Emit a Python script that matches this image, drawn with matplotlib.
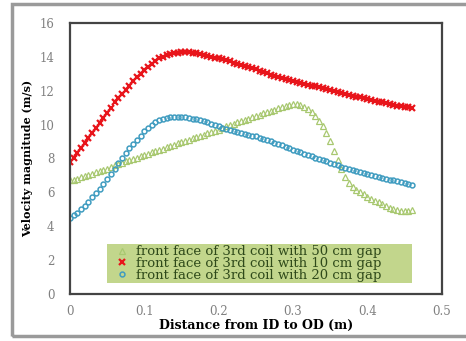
# Velocity magnitude across the coil, three gap cases
import matplotlib
matplotlib.use('Agg')
from matplotlib import pyplot as plt
from matplotlib.patches import Rectangle

# Data (one reading every 5 mm)
dist = [0.000, 0.005, 0.010, 0.015, 0.020, 0.025, 0.030, 0.035, 0.040, 0.045,
        0.050, 0.055, 0.060, 0.065, 0.070, 0.075, 0.080, 0.085, 0.090, 0.095,
        0.100, 0.105, 0.110, 0.115, 0.120, 0.125, 0.130, 0.135, 0.140, 0.145,
        0.150, 0.155, 0.160, 0.165, 0.170, 0.175, 0.180, 0.185, 0.190, 0.195,
        0.200, 0.205, 0.210, 0.215, 0.220, 0.225, 0.230, 0.235, 0.240, 0.245,
        0.250, 0.255, 0.260, 0.265, 0.270, 0.275, 0.280, 0.285, 0.290, 0.295,
        0.300, 0.305, 0.310, 0.315, 0.320, 0.325, 0.330, 0.335, 0.340, 0.345,
        0.350, 0.355, 0.360, 0.365, 0.370, 0.375, 0.380, 0.385, 0.390, 0.395,
        0.400, 0.405, 0.410, 0.415, 0.420, 0.425, 0.430, 0.435, 0.440, 0.445,
        0.450, 0.455, 0.460]

gap_50 = [6.70, 6.75, 6.80, 6.88, 6.95, 7.02, 7.10, 7.18, 7.25, 7.32,
          7.40, 7.50, 7.60, 7.68, 7.75, 7.82, 7.90, 7.98, 8.05, 8.12,
          8.20, 8.28, 8.35, 8.42, 8.50, 8.58, 8.65, 8.72, 8.80, 8.88,
          8.95, 9.02, 9.10, 9.18, 9.25, 9.32, 9.40, 9.48, 9.55, 9.62,
          9.70, 9.80, 9.90, 9.98, 10.05, 10.12, 10.20, 10.28, 10.35, 10.42,
          10.50, 10.58, 10.65, 10.72, 10.80, 10.88, 10.95, 11.02, 11.10, 11.15,
          11.20, 11.20, 11.15, 11.05, 10.90, 10.72, 10.50, 10.22, 9.90, 9.50,
          9.00, 8.45, 7.90, 7.35, 6.90, 6.55, 6.30, 6.15, 6.00, 5.88,
          5.75, 5.62, 5.50, 5.40, 5.30, 5.20, 5.10, 5.02, 4.95, 4.90,
          4.90, 4.92, 4.95]

gap_10 = [7.80, 8.05, 8.30, 8.60, 8.90, 9.20, 9.50, 9.80, 10.10, 10.40,
          10.70, 11.00, 11.30, 11.55, 11.80, 12.05, 12.30, 12.55, 12.80, 13.00,
          13.20, 13.40, 13.60, 13.75, 13.90, 14.00, 14.10, 14.15, 14.20, 14.22,
          14.25, 14.25, 14.25, 14.22, 14.20, 14.15, 14.10, 14.05, 14.00, 13.95,
          13.90, 13.85, 13.80, 13.72, 13.65, 13.58, 13.50, 13.45, 13.40, 13.32,
          13.25, 13.18, 13.10, 13.02, 12.95, 12.88, 12.80, 12.75, 12.70, 12.62,
          12.55, 12.50, 12.45, 12.40, 12.35, 12.30, 12.25, 12.20, 12.15, 12.10,
          12.05, 11.98, 11.90, 11.85, 11.80, 11.75, 11.70, 11.65, 11.60, 11.55,
          11.50, 11.45, 11.40, 11.35, 11.30, 11.25, 11.20, 11.15, 11.10, 11.08,
          11.05, 11.02, 11.00]

gap_20 = [4.50, 4.65, 4.80, 5.00, 5.20, 5.45, 5.70, 5.95, 6.20, 6.50,
          6.80, 7.10, 7.40, 7.70, 8.00, 8.30, 8.60, 8.85, 9.10, 9.35,
          9.60, 9.80, 10.00, 10.12, 10.25, 10.32, 10.40, 10.42, 10.45, 10.45,
          10.45, 10.42, 10.40, 10.35, 10.30, 10.25, 10.20, 10.12, 10.05, 9.98,
          9.90, 9.82, 9.75, 9.68, 9.60, 9.55, 9.50, 9.45, 9.40, 9.35,
          9.30, 9.22, 9.15, 9.08, 9.00, 8.92, 8.85, 8.78, 8.70, 8.60,
          8.50, 8.42, 8.35, 8.28, 8.20, 8.12, 8.05, 7.98, 7.90, 7.82,
          7.75, 7.68, 7.60, 7.52, 7.45, 7.38, 7.30, 7.25, 7.20, 7.12,
          7.05, 7.00, 6.95, 6.90, 6.85, 6.80, 6.75, 6.70, 6.65, 6.60,
          6.55, 6.50, 6.45]

labels = ['front face of 3rd coil with 50 cm gap',
          'front face of 3rd coil with 10 cm gap',
          'front face of 3rd coil with 20 cm gap']

plt.rcParams['font.family'] = ['DejaVu Serif']

fig = plt.figure(figsize=(4.66, 3.41), dpi=100)
ax = fig.add_axes([0.150, 0.138, 0.798, 0.795])

# outer gray frame of the pasted picture (right side runs off the image)
fig.patches.append(Rectangle((0.025, 0.015), 1.05, 0.972, transform=fig.transFigure,
                             fill=False, edgecolor='#9a9a9a', linewidth=2.5))

ax.plot(dist, gap_50, linestyle='none', marker='^', markersize=4,
        markerfacecolor='none', markeredgecolor='#a8c870', markeredgewidth=0.9,
        label=labels[0])
ax.plot(dist, gap_10, linestyle='none', marker='x', markersize=4,
        color='#e8151b', markeredgewidth=1.6, label=labels[1])
ax.plot(dist, gap_20, linestyle='none', marker='o', markersize=3.5,
        markerfacecolor='none', markeredgecolor='#3f9cc0', markeredgewidth=1.1,
        label=labels[2])

ax.set_xlim(0, 0.5)
ax.set_ylim(0, 16)
ax.set_xticks([0, 0.1, 0.2, 0.3, 0.4, 0.5])
ax.set_xticklabels(['0', '0.1', '0.2', '0.3', '0.4', '0.5'])
ax.set_yticks(range(0, 17, 2))
ax.tick_params(length=0, labelsize=8.5, labelcolor='#808080')
ax.tick_params(axis='y', pad=11)
ax.tick_params(axis='x', pad=8)

for s in ax.spines.values():
    s.set_color('#444444')
    s.set_linewidth(1.6)

ax.set_xlabel('Distance from ID to OD (m)', fontsize=9, fontweight='bold', labelpad=1)
ax.set_ylabel('Velocity magnitude (m/s)', fontsize=8, fontweight='bold', labelpad=5)

leg = ax.legend(loc='lower left', bbox_to_anchor=(0.10, 0.04, 0.82, 0.15), mode='expand',
                fontsize=9.5, frameon=True, fancybox=False, borderpad=0.1,
                labelspacing=-0.1, handlelength=2.0, handletextpad=0.1, borderaxespad=0)
leg.get_frame().set_facecolor('#c2d68c')
leg.get_frame().set_edgecolor('none')
leg.get_frame().set_alpha(1)
for t in leg.get_texts():
    t.set_color('#2f4a1a')

plt.savefig('out.png', dpi=100)
